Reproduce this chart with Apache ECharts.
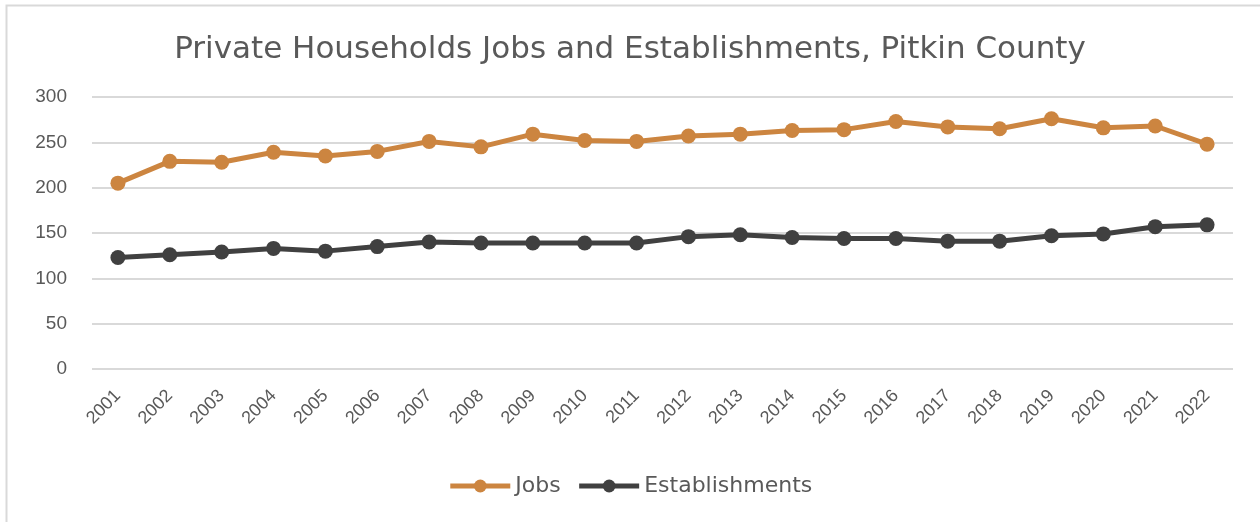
<!DOCTYPE html>
<html>
<head>
<meta charset="utf-8">
<script src="https://cdn.jsdelivr.net/npm/echarts@6/dist/echarts.min.js"></script>
<style>
  html, body { margin: 0; padding: 0; background: #fff; }
  #chart { width: 1260px; height: 522px; }
</style>
</head>
<body>
<div id="chart"></div>
<script>
const years = ['2001', '2002', '2003', '2004', '2005', '2006', '2007', '2008', '2009', '2010', '2011',
  '2012', '2013', '2014', '2015', '2016', '2017', '2018', '2019', '2020', '2021', '2022'];
const jobs = [205, 229, 228, 239, 235, 240, 251, 245, 259, 252, 251,
  257, 259, 263, 264, 273, 267, 265, 276, 266, 268, 248];
const establishments = [123, 126, 129, 133, 130, 135, 140, 139, 139, 139, 139,
  146, 148, 145, 144, 144, 141, 141, 147, 149, 157, 159];

const textColor = '#595959';
const font = 'Liberation Sans';

let myChart = echarts.init(document.getElementById('chart'));
let option = {
  animation: false,
  backgroundColor: '#fff',
  graphic: [
    {
      type: 'rect',
      shape: { x: 6.5, y: 5.5, width: 1300, height: 600 },
      style: { fill: 'none', stroke: '#d9d9d9', lineWidth: 2 },
      silent: true
    }
  ],
  title: {
    text: 'Private Households Jobs and Establishments, Pitkin County',
    left: 'center',
    top: 29,
    textStyle: {
      color: textColor,
      fontFamily: 'DejaVu Sans',
      fontSize: 31,
      fontWeight: 'normal'
    }
  },
  legend: {
    bottom: 20,
    left: 'center',
    itemWidth: 60,
    itemHeight: 16,
    itemGap: 16,
    data: ['Jobs', 'Establishments'],
    lineStyle: { width: 5 },
    textStyle: { color: textColor, fontFamily: 'DejaVu Sans', fontSize: 22 }
  },
  grid: {
    top: 97,
    left: 92,
    right: 27,
    bottom: 153
  },
  xAxis: {
    type: 'category',
    data: years,
    boundaryGap: true,
    axisLine: { show: false },
    axisTick: { show: false },
    axisLabel: {
      rotate: 45,
      margin: 24,
      color: textColor,
      fontFamily: font,
      fontSize: 18
    }
  },
  yAxis: {
    type: 'value',
    min: 0,
    max: 300,
    interval: 50,
    axisLine: { show: false },
    axisTick: { show: false },
    axisLabel: {
      margin: 25,
      color: textColor,
      fontFamily: font,
      fontSize: 19
    },
    splitLine: { lineStyle: { color: '#d9d9d9', width: 2 } }
  },
  series: [
    {
      name: 'Jobs',
      type: 'line',
      data: jobs,
      color: '#cc8540',
      symbol: 'circle',
      symbolSize: 15,
      lineStyle: { width: 5 }
    },
    {
      name: 'Establishments',
      type: 'line',
      data: establishments,
      color: '#404040',
      symbol: 'circle',
      symbolSize: 15,
      lineStyle: { width: 5 }
    }
  ]
};
myChart.setOption(option);
</script>
</body>
</html>
